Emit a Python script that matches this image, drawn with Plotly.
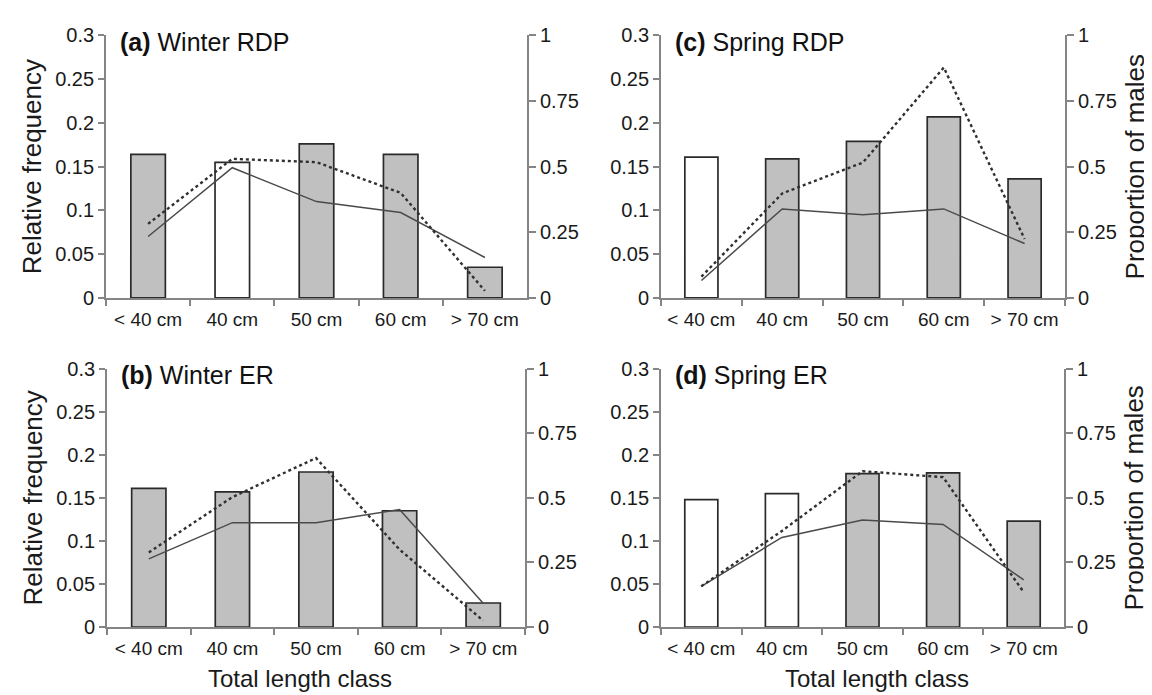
import plotly.graph_objects as go

categories = ["< 40 cm", "40 cm", "50 cm", "60 cm", "> 70 cm"]

panel_titles = ["(a)", "(b)", "(c)", "(d)"]
panel_names = ["Winter RDP", "Winter ER", "Spring RDP", "Spring ER"]

freq_a = [0.164, 0.155, 0.176, 0.164, 0.035]
freq_b = [0.161, 0.157, 0.180, 0.135, 0.028]
freq_c = [0.161, 0.159, 0.179, 0.207, 0.136]
freq_d = [0.148, 0.155, 0.178, 0.179, 0.123]

# True = white (open) bar, False = grey bar
open_a = [False, True, False, False, False]
open_b = [False, False, False, False, False]
open_c = [True, False, False, False, False]
open_d = [True, True, False, False, False]

solid_a = [0.234, 0.496, 0.367, 0.325, 0.154]
solid_b = [0.264, 0.404, 0.404, 0.455, 0.092]
solid_c = [0.066, 0.339, 0.317, 0.339, 0.207]
solid_d = [0.158, 0.347, 0.414, 0.397, 0.183]

dotted_a = [0.282, 0.530, 0.517, 0.400, 0.027]
dotted_b = [0.289, 0.503, 0.654, 0.300, 0.025]
dotted_c = [0.081, 0.398, 0.516, 0.878, 0.224]
dotted_d = [0.158, 0.372, 0.603, 0.580, 0.135]

left_ticks = [0, 0.05, 0.1, 0.15, 0.2, 0.25, 0.3]
left_labels = ["0", "0.05", "0.1", "0.15", "0.2", "0.25", "0.3"]
right_ticks = [0, 0.25, 0.5, 0.75, 1]
right_labels = ["0", "0.25", "0.5", "0.75", "1"]

x_title = "Total length class"
left_title = "Relative frequency"
right_title = "Proportion of males"

W, H = 1152, 695
panels = [
    # index, freq, open, solid, dotted, px-left, px-right, px-top, px-bottom
    (0, freq_a, open_a, solid_a, dotted_a, 98, 519, 17, 288),
    (1, freq_b, open_b, solid_b, dotted_b, 99, 517, 361, 628),
    (2, freq_c, open_c, solid_c, dotted_c, 653, 1057, 17, 288),
    (3, freq_d, open_d, solid_d, dotted_d, 653, 1056, 361, 628),
]
# x-title centres (px) for the bottom panels
x_title_pos = {1: 292, 3: 869}

FONT = "Liberation Sans, Arial, sans-serif"
AX = "#858585"
GREY = "#c0c0c0"
EDGE = "#2a2a2a"

fig = go.Figure()
layout = dict(
    width=W, height=H, margin=dict(l=0, r=0, t=0, b=0),
    paper_bgcolor="white", plot_bgcolor="rgba(0,0,0,0)",
    showlegend=False, font=dict(family=FONT, color="#1a1a1a", size=20),
    bargap=0.59,
)
annotations = []

for idx, freq, opn, solid, dotted, xl, xr, yt, yb in panels:
    n = idx + 1
    xa = "x" if n == 1 else f"x{n}"
    ya_l = 2 * idx + 1
    ya_r = 2 * idx + 2
    yl = "y" if ya_l == 1 else f"y{ya_l}"
    yr = f"y{ya_r}"
    colors = ["white" if o else GREY for o in opn]
    fig.add_trace(go.Bar(
        x=categories, y=freq, xaxis=xa, yaxis=yl,
        marker=dict(color=colors, line=dict(color=EDGE, width=1.7)),
    ))
    fig.add_trace(go.Scatter(
        x=categories, y=solid, xaxis=xa, yaxis=yr, mode="lines",
        line=dict(color="#4a4a4a", width=1.5),
    ))
    fig.add_trace(go.Scatter(
        x=categories, y=dotted, xaxis=xa, yaxis=yr, mode="lines",
        line=dict(color="#303030", width=2.4, dash="dot"),
    ))
    dx = [xl / W, xr / W]
    dy = [1 - yb / H, 1 - yt / H]
    xkey = "xaxis" if n == 1 else f"xaxis{n}"
    layout[xkey] = dict(
        domain=dx, anchor=yl, type="category", tickson="boundaries",
        range=[-0.5, 4.5], showline=True, linecolor=AX, linewidth=1.8,
        ticks="outside", ticklen=6, tickcolor=AX, tickwidth=1.8,
        showgrid=False, zeroline=False, tickfont=dict(size=19),
        ticklabelstandoff=3,
    )
    lkey = "yaxis" if ya_l == 1 else f"yaxis{ya_l}"
    layout[lkey] = dict(
        domain=dy, anchor=xa, range=[0, 0.3], tickvals=left_ticks,
        ticktext=left_labels, showline=True, linecolor=AX, linewidth=1.8,
        ticks="outside", ticklen=6, tickcolor=AX, tickwidth=1.8,
        showgrid=False, zeroline=False, tickfont=dict(size=20),
        title=dict(text=left_title if idx in (0, 1) else "",
                   font=dict(size=26), standoff=6),
    )
    layout[f"yaxis{ya_r}"] = dict(
        domain=dy, anchor=xa, overlaying=yl, side="right", range=[0, 1],
        tickvals=right_ticks, ticktext=right_labels, showline=True,
        linecolor=AX, linewidth=1.8, ticks="outside", ticklen=7,
        tickcolor=AX, tickwidth=1.8, showgrid=False, zeroline=False,
        tickfont=dict(size=20),
        title=dict(text=right_title if idx in (2, 3) else "",
                   font=dict(size=26), standoff=10),
    )
    annotations.append(dict(
        x=(xl + 12) / W, y=1 - (yt + 7) / H, xref="paper", yref="paper",
        xanchor="left", yanchor="middle", showarrow=False,
        text=f"<b>{panel_titles[idx]}</b> {panel_names[idx]}",
        font=dict(size=25, color="#111"),
    ))
    if idx in x_title_pos:
        annotations.append(dict(
            x=x_title_pos[idx] / W, y=1 - 681 / H, xref="paper", yref="paper",
            xanchor="center", yanchor="middle", showarrow=False,
            text=x_title, font=dict(size=24, color="#1a1a1a"),
        ))

layout["annotations"] = annotations
fig.update_layout(**layout)
fig.write_html("out.html")
